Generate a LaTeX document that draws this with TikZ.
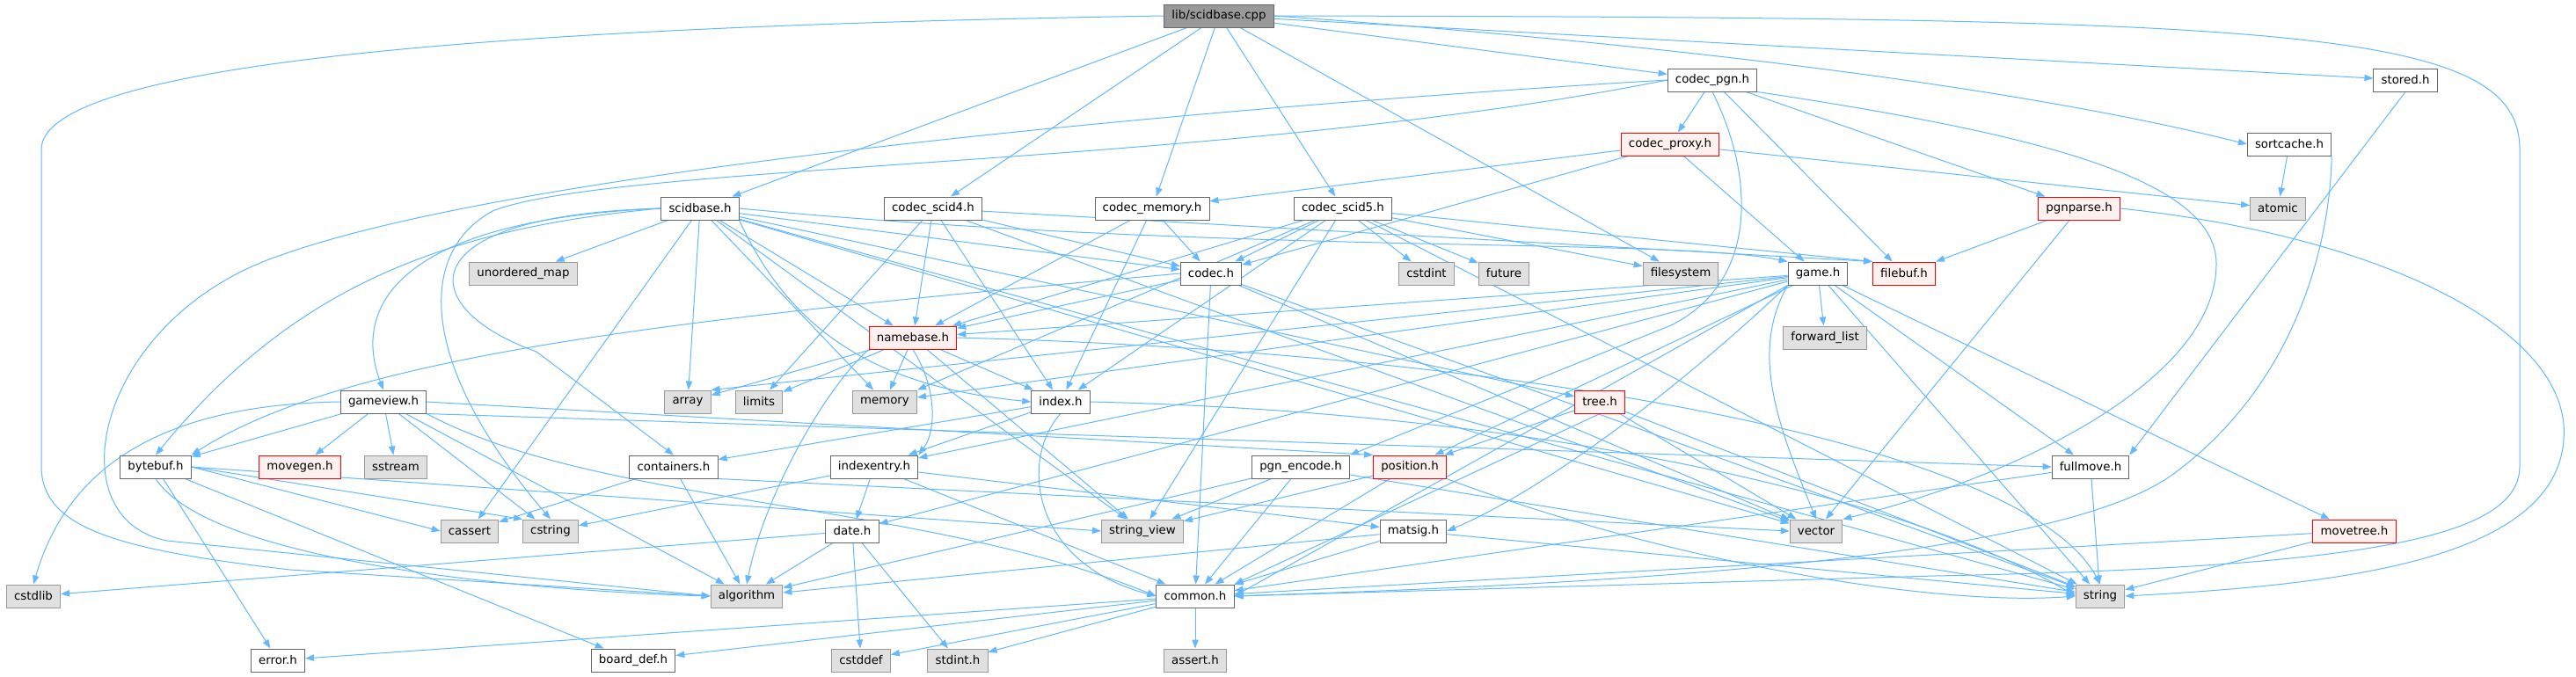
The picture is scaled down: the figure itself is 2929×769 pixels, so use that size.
\documentclass[tikz,border=0pt]{standalone}
\usepackage{fontspec}
\setmainfont{DejaVu Sans}
\usetikzlibrary{arrows.meta,backgrounds}

\definecolor{edgeblue}{HTML}{63B8FF}
\definecolor{frame}{HTML}{666666}
\definecolor{sysframe}{HTML}{999999}
\definecolor{sysfill}{HTML}{E0E0E0}
\definecolor{cutframe}{HTML}{FF0000}
\definecolor{cutfill}{HTML}{FFF0F0}
\definecolor{rootfill}{HTML}{999999}

\begin{document}
\begin{tikzpicture}[
  x=0.75pt, y=-0.75pt,
  file/.style={rectangle, draw=frame, line width=0.75pt, fill=white, minimum height=19.5pt, inner xsep=6.5pt, inner ysep=0pt, font=\fontsize{10}{12}\selectfont},
  sysfile/.style={file, draw=sysframe, fill=sysfill},
  cutfile/.style={file, draw=cutframe, fill=cutfill},
  rootfile/.style={file, fill=rootfill},
  arr/.style={-{Triangle[length=7.5pt,width=5.5pt]}, draw=edgeblue, line width=0.75pt}
]
\useasboundingbox (0,0) rectangle (2929,769);

% rank 0 - 2
\node[rootfile] (cpp) at (1386,18) {lib/scidbase.cpp};
\node[file] (pgn) at (1947,91) {codec\_pgn.h};
\node[file] (stored) at (2735,91) {stored.h};
\node[cutfile] (proxy) at (1899,164) {codec\_proxy.h};
\node[file] (sortc) at (2603,164) {sortcache.h};
\node[file] (sbh) at (796,237) {scidbase.h};
\node[file] (s4) at (1061,237) {codec\_scid4.h};
\node[file] (cmem) at (1310,237) {codec\_memory.h};
\node[file] (s5) at (1527,237) {codec\_scid5.h};
\node[cutfile] (pgnp) at (2364,237) {pgnparse.h};
\node[sysfile] (atomic) at (2590,237) {atomic};

% rank 3 - 4
\node[sysfile] (umap) at (595,311) {unordered\_map};
\node[file] (codec) at (1377,311) {codec.h};
\node[sysfile] (cstdint) at (1622,311) {cstdint};
\node[sysfile] (future) at (1710,311) {future};
\node[sysfile] (fsys) at (1911,311) {filesystem};
\node[file] (game) at (2067,311) {game.h};
\node[cutfile] (fbuf) at (2165,311) {filebuf.h};
\node[cutfile] (nb) at (1038,384) {namebase.h};
\node[sysfile] (flist) at (2075,384) {forward\_list};

% rank 5 - 6
\node[file] (gv) at (436,457) {gameview.h};
\node[sysfile] (array) at (782,457) {array};
\node[sysfile] (limits) at (863,457) {limits};
\node[sysfile] (memory) at (1006,457) {memory};
\node[file] (index) at (1206,457) {index.h};
\node[cutfile] (tree) at (1819,457) {tree.h};
\node[file] (bb) at (177,531) {bytebuf.h};
\node[cutfile] (movegen) at (341,531) {movegen.h};
\node[sysfile] (sstream) at (450,531) {sstream};
\node[file] (cont) at (766,531) {containers.h};
\node[file] (ie) at (994,531) {indexentry.h};
\node[file] (pgnenc) at (1479,531) {pgn\_encode.h};
\node[cutfile] (pos) at (1603,531) {position.h};
\node[file] (fm) at (2377,531) {fullmove.h};

% rank 7 - 9
\node[sysfile] (cassert) at (534,604) {cassert};
\node[sysfile] (cstring) at (626,604) {cstring};
\node[file] (date) at (969,604) {date.h};
\node[sysfile] (sview) at (1299,604) {string\_view};
\node[file] (matsig) at (1607,604) {matsig.h};
\node[sysfile] (vector) at (2065,604) {vector};
\node[cutfile] (mtree) at (2677,604) {movetree.h};
\node[sysfile] (cstdlib) at (38,678) {cstdlib};
\node[sysfile] (alg) at (849,678) {algorithm};
\node[file] (common) at (1359,678) {common.h};
\node[sysfile] (string) at (2388,678) {string};
\node[file] (error) at (316,751) {error.h};
\node[file] (bdef) at (720,751) {board\_def.h};
\node[sysfile] (cstddef) at (979,751) {cstddef};
\node[sysfile] (stdint) at (1089,751) {stdint.h};
\node[sysfile] (assert) at (1359,751) {assert.h};

\begin{scope}[on background layer]
\fill[white] (0,0) rectangle (2929,769);

% straight includes
\foreach \a/\b in {cpp/sbh, cpp/s4, cpp/cmem, cpp/s5, cpp/pgn, cpp/fsys, cpp/stored,
    sbh/umap, sbh/cassert, sbh/array, sbh/memory, sbh/nb, sbh/codec, sbh/tree, sbh/vector, sbh/sview, sbh/string,
    s4/nb, s4/limits, s4/index, s4/codec, s4/fbuf.north west, s4/vector,
    cmem/nb, cmem/index, cmem/codec,
    s5/codec, s5/nb, s5/index, s5/cstdint, s5/future, s5/fsys, s5/fbuf.north west, s5/sview, s5/string, s5/memory.north east,
    pgn/proxy, pgn/pgnp, pgn/fbuf,
    proxy/cmem, proxy/codec, proxy/game, proxy/atomic,
    pgnp/fbuf, pgnp/vector,
    codec/nb, codec/common, codec/vector, codec/string,
    nb/array, nb/limits, nb/memory, nb/index, nb/sview,
    index/cont, index/ie,
    ie/date, ie/common, ie/cstring, ie/matsig,
    cont/cassert, cont/alg, cont.south east/vector.west,
    gv/bb, gv/movegen, gv/sstream, gv/cstring, gv/alg, gv.east/pos.north west, gv.south east/fm.west,
    bb/error, bb/bdef, bb.east/cassert.west, bb.east/cstring.north west, bb.east/sview.west,
    date/cstdlib, date/alg, date/cstddef, date/stdint,
    common/error, common/bdef, common/cstddef, common/stdint, common/assert,
    game/nb, game/memory, game/array.north east, game/ie, game/date, game/pos, game/mtree, game/string, game/flist, game/fm, game.south west/common.east,
    tree/pos, tree/vector, tree/string, tree.south/common.north east,
    pos/sview, pos/common,
    pgnenc/sview, pgnenc/common, pgnenc/alg, pgnenc/string,
    matsig/alg, matsig/common, matsig/string,
    fm/common, fm/string, mtree/common, mtree/string,
    stored.south/fm.north east, sortc/atomic}
  \draw[arr] (\a) -- (\b);

% routed around other boxes
\draw[arr] (cpp.west) .. controls (700,28) and (47,60) .. (47,170) -- (47,530) .. controls (47,600) and (130,625) .. (330,648) -- (alg.west);
\draw[arr] (cpp.east) .. controls (2600,20) and (2865,30) .. (2865,170) -- (2865,530) .. controls (2865,610) and (2700,645) .. (2200,655) -- (common.east);
\draw[arr] (cpp.east) .. controls (1900,50) and (2300,100) .. (sortc.west);
\draw[arr] (pgn.west) .. controls (1400,120) and (600,190) .. (320,290) .. controls (110,360) and (60,590) .. (190,615) -- (alg.west);
\draw[arr] (pgn.west) .. controls (1400,190) and (700,185) .. (560,240) .. controls (470,290) and (480,420) .. (cstring.north);
\draw[arr] (pgn.south east) .. controls (2300,150) and (2520,200) .. (2520,300) .. controls (2520,430) and (2300,540) .. (vector.north east);
\draw[arr] (pgn.south) .. controls (1995,200) and (2000,320) .. (1900,370) -- (pgnenc.north east);
\draw[arr] (pgnp.east) .. controls (2720,270) and (2925,380) .. (2915,500) .. controls (2905,640) and (2650,665) .. (string.east);
\draw[arr] (sortc.south east) .. controls (2650,260) and (2620,430) .. (2470,540) .. controls (2330,640) and (1800,665) .. (common.east);
\draw[arr] (sbh.west) .. controls (450,250) and (400,350) .. (gv.north);
\draw[arr] (sbh.west) .. controls (500,260) and (330,330) .. (bb.north);
\draw[arr] (sbh.west) .. controls (460,245) and (470,350) .. (610,400) -- (cont.north);
\draw[arr] (sbh.south east) .. controls (900,380) and (1000,440) .. (index.west);
\draw[arr] (sbh.east) .. controls (1400,290) and (1900,270) .. (game.north west);
\draw[arr] (codec.west) .. controls (800,360) and (400,400) .. (bb.north east);
\draw[arr] (nb.south west) .. controls (940,440) and (870,560) .. (alg.north);
\draw[arr] (nb.south) .. controls (1065,440) and (1065,490) .. (ie.north east);
\draw[arr] (nb.east) .. controls (1700,400) and (2300,500) .. (string.north);
\draw[arr] (index.east) .. controls (1800,470) and (2200,580) .. (string.west);
\draw[arr] (index.south) .. controls (1160,520) and (1170,640) .. (common.west);
\draw[arr] (gv.west) .. controls (200,460) and (80,520) .. (cstdlib.north);
\draw[arr] (gv.south east) .. controls (680,575) and (1050,570) .. (common.west);
\draw[arr] (bb.south) .. controls (240,640) and (600,672) .. (alg.west);
\draw[arr] (pos.south east) .. controls (1900,640) and (2200,690) .. (string.west);
\draw[arr] (game.south west) .. controls (1990,400) and (2020,480) .. (vector.north);
\draw[arr] (game.south west) .. controls (1900,450) and (1750,560) .. (matsig.east);
\end{scope}
\end{tikzpicture}
\end{document}
